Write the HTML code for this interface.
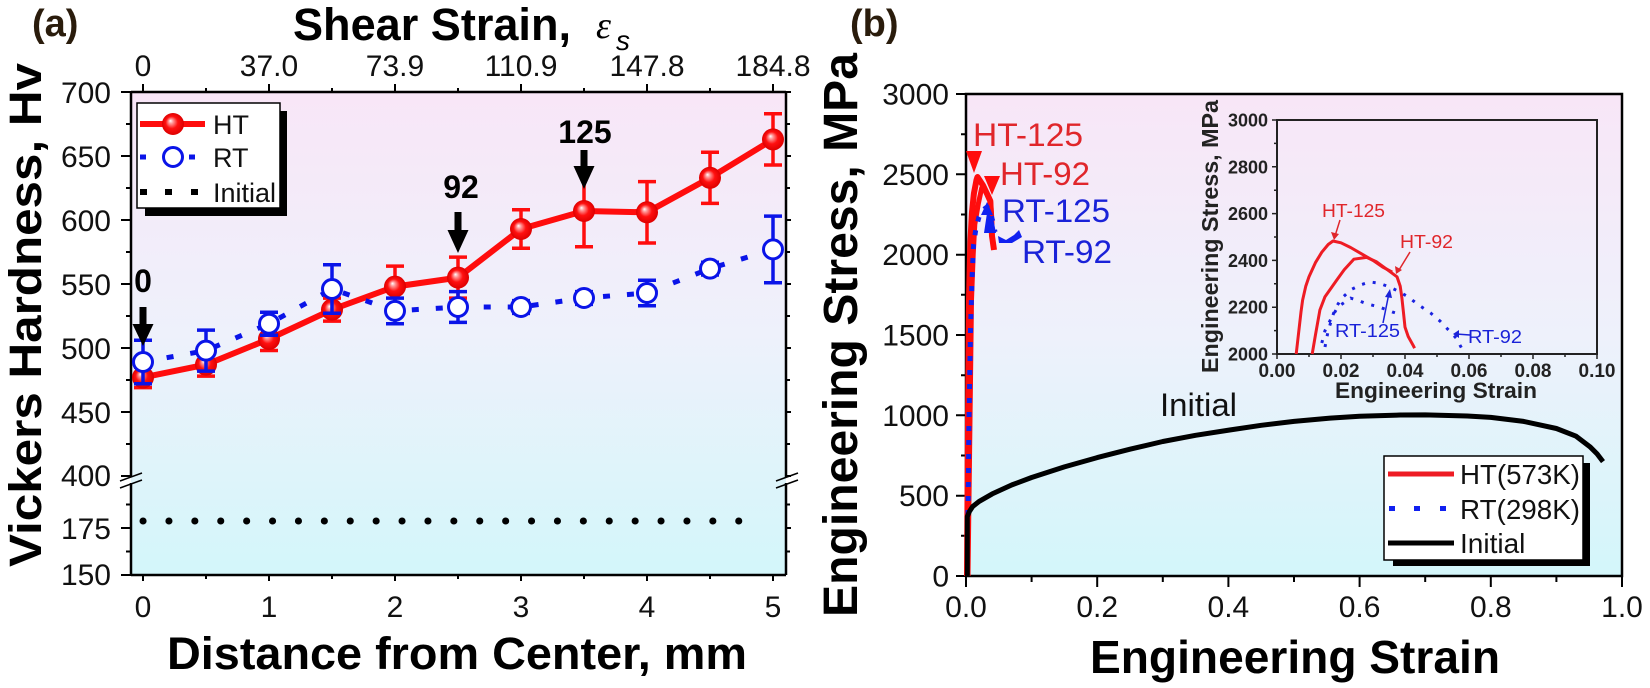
<!DOCTYPE html>
<html><head><meta charset="utf-8"><style>html,body{margin:0;padding:0;background:#fff}svg{display:block}</style></head><body>
<svg width="1650" height="688" viewBox="0 0 1650 688" xmlns="http://www.w3.org/2000/svg" font-family="'Liberation Sans', Arial, sans-serif">
<defs>
<linearGradient id="bg" x1="0" y1="0" x2="0" y2="1">
<stop offset="0" stop-color="#f8e6f7"/>
<stop offset="0.5" stop-color="#eef1fb"/>
<stop offset="1" stop-color="#d3f6fa"/>
</linearGradient>
<radialGradient id="ball" cx="0.5" cy="0.5" r="0.5" fx="0.38" fy="0.35">
<stop offset="0" stop-color="#ffffff"/>
<stop offset="0.2" stop-color="#ff9a9a"/>
<stop offset="0.55" stop-color="#ff1010"/>
<stop offset="1" stop-color="#dd0000"/>
</radialGradient>
</defs>

<!-- ============ PANEL (a) ============ -->
<rect x="131" y="92" width="655" height="483" fill="url(#bg)"/>
<text x="32" y="36" font-size="38" font-weight="bold" fill="#2a1c0c">(a)</text>

<!-- top title -->
<text x="293" y="40" font-size="45" font-weight="bold" textLength="278" lengthAdjust="spacingAndGlyphs">Shear Strain,</text>
<text x="596" y="38" font-size="38" font-style="italic" font-family="'Liberation Serif', serif">ε</text>
<text x="616" y="50" font-size="28" font-style="italic">s</text>

<!-- axes box (a) -->
<g stroke="#000" stroke-width="2.5" fill="none">
<line x1="131" y1="92" x2="786" y2="92"/>
<line x1="131" y1="575" x2="786" y2="575"/>
<line x1="131" y1="92" x2="131" y2="477"/>
<line x1="131" y1="483" x2="131" y2="575"/>
<line x1="786" y1="92" x2="786" y2="477"/>
<line x1="786" y1="483" x2="786" y2="575"/>
</g>
<!-- break marks -->
<g stroke="#000" stroke-width="1.5">
<line x1="120" y1="481" x2="142" y2="473"/>
<line x1="120" y1="488" x2="142" y2="480"/>
<line x1="776" y1="481" x2="798" y2="473"/>
<line x1="776" y1="488" x2="798" y2="480"/>
</g>
<!-- ticks (a) -->
<path stroke="#000" stroke-width="2" fill="none" d="
M121,92H131 M121,156H131 M121,220H131 M121,284H131 M121,348H131 M121,412H131 M121,476H131 M121,528H131 M121,575H131
M126,124H131 M126,188H131 M126,252H131 M126,316H131 M126,380H131 M126,444H131 M126,504.5H131 M126,551.5H131
M786,92H791 M786,156H791 M786,220H791 M786,284H791 M786,348H791 M786,412H791 M786,476H791 M786,528H791
M786,124H790 M786,188H790 M786,252H790 M786,316H790 M786,380H790 M786,444H790 M786,504.5H790 M786,551.5H790
M143,575V581 M269,575V581 M395,575V581 M521,575V581 M647,575V581 M773,575V581
M206,575V579 M332,575V579 M458,575V579 M584,575V579 M710,575V579
M143,92V84 M269,92V84 M395,92V84 M521,92V84 M647,92V84 M773,92V84
M206,92V88 M332,92V88 M458,92V88 M584,92V88 M710,92V88"/>
<!-- tick labels (a) -->
<g font-size="30" text-anchor="end" fill="#111">
<text x="111" y="103">700</text>
<text x="111" y="167">650</text>
<text x="111" y="231">600</text>
<text x="111" y="295">550</text>
<text x="111" y="359">500</text>
<text x="111" y="423">450</text>
<text x="111" y="486">400</text>
<text x="111" y="539">175</text>
<text x="111" y="585">150</text>
</g>
<g font-size="30" text-anchor="middle" fill="#111">
<text x="143" y="617">0</text>
<text x="269" y="617">1</text>
<text x="395" y="617">2</text>
<text x="521" y="617">3</text>
<text x="647" y="617">4</text>
<text x="773" y="617">5</text>
<text x="143" y="76">0</text>
<text x="269" y="76">37.0</text>
<text x="395" y="76">73.9</text>
<text x="521" y="76">110.9</text>
<text x="647" y="76">147.8</text>
<text x="773" y="76">184.8</text>
</g>
<!-- axis titles (a) -->
<text x="167" y="669" font-size="45" font-weight="bold" textLength="580" lengthAdjust="spacingAndGlyphs">Distance from Center, mm</text>
<text transform="translate(41,567) rotate(-90)" font-size="45" font-weight="bold" textLength="504" lengthAdjust="spacingAndGlyphs">Vickers Hardness, Hv</text>

<!-- initial dotted line -->
<line x1="143" y1="521" x2="762.5" y2="521" stroke="#000" stroke-width="7" stroke-linecap="round" stroke-dasharray="0.1 25.8"/>

<!-- HT series -->
<polyline fill="none" stroke="#ff0d0d" stroke-width="6" points="143,377.4 206,364.6 269,339 332,309.6 395,286.6 458,277.6 521,229 584,211 647,212.3 710,177.8 773,139.4"/>
<path fill="none" stroke="#ff0d0d" stroke-width="3.5" d="
M143,367.2V387.6 M134,367.2H152 M134,387.6H152
M206,353.1V376.1 M197,353.1H215 M197,376.1H215
M269,327.5V350.5 M260,327.5H278 M260,350.5H278
M332,298.1V321.1 M323,298.1H341 M323,321.1H341
M395,266.1V307.1 M386,266.1H404 M386,307.1H404
M458,257.1V298.1 M449,257.1H467 M449,298.1H467
M521,209.8V248.2 M512,209.8H530 M512,248.2H530
M584,175.2V246.8 M575,246.8H593
M647,181.6V243 M638,181.6H656 M638,243H656
M710,152.2V203.4 M701,152.2H719 M701,203.4H719
M773,113.8V165 M764,113.8H782 M764,165H782"/>
<g fill="url(#ball)">
<circle cx="143" cy="377.4" r="11"/><circle cx="206" cy="364.6" r="11"/><circle cx="269" cy="339" r="11"/>
<circle cx="332" cy="309.6" r="11"/><circle cx="395" cy="286.6" r="11"/><circle cx="458" cy="277.6" r="11"/>
<circle cx="521" cy="229" r="11"/><circle cx="584" cy="211" r="11"/><circle cx="647" cy="212.3" r="11"/>
<circle cx="710" cy="177.8" r="11"/><circle cx="773" cy="139.4" r="11"/>
</g>

<!-- RT series -->
<polyline fill="none" stroke="#0a14e8" stroke-width="5" stroke-dasharray="7 17" points="143,362 206,350.6 269,323.7 332,289 395,310.9 458,307 521,307 584,298 647,293 710,268.6 773,249.4"/>
<path fill="none" stroke="#0a14e8" stroke-width="3.5" d="
M143,340.2V383.8 M134,340.2H152 M134,383.8H152
M206,330.1V371.1 M197,330.1H215 M197,371.1H215
M269,312.2V335.2 M260,312.2H278 M260,335.2H278
M332,264.7V313.3 M323,264.7H341 M323,313.3H341
M395,298.1V323.7 M386,298.1H404 M386,323.7H404
M458,291.6V322.4 M449,291.6H467 M449,322.4H467
M521,300.6V313.4 M512,300.6H530 M512,313.4H530
M584,291.6V304.4 M575,291.6H593 M575,304.4H593
M647,280.2V305.8 M638,280.2H656 M638,305.8H656
M710,262.2V275 M701,262.2H719 M701,275H719
M773,216.1V282.7 M764,216.1H782 M764,282.7H782"/>
<g fill="#fff" stroke="#0a14e8" stroke-width="3">
<circle cx="143" cy="362" r="9.5"/><circle cx="206" cy="350.6" r="9.5"/><circle cx="269" cy="323.7" r="9.5"/>
<circle cx="332" cy="289" r="9.5"/><circle cx="395" cy="310.9" r="9.5"/><circle cx="458" cy="307" r="9.5"/>
<circle cx="521" cy="307" r="9.5"/><circle cx="584" cy="298" r="9.5"/><circle cx="647" cy="293" r="9.5"/>
<circle cx="710" cy="268.6" r="9.5"/><circle cx="773" cy="249.4" r="9.5"/>
</g>

<!-- arrows & labels (a) -->
<g fill="#000">
<rect x="139.5" y="307" width="7" height="19"/><polygon points="132.5,324 153.5,324 143,346"/>
<rect x="454.5" y="212" width="7" height="20"/><polygon points="447.5,230 468.5,230 458,253"/>
<rect x="580.5" y="150" width="7" height="18"/><polygon points="573.5,166 594.5,166 584,189"/>
</g>
<g font-size="32" font-weight="bold" text-anchor="middle">
<text x="143" y="292">0</text>
<text x="461" y="198">92</text>
<text x="585" y="143">125</text>
</g>

<!-- legend (a) -->
<rect x="145" y="111" width="142" height="105" fill="#000"/>
<rect x="137" y="103" width="143" height="105" fill="#fff" stroke="#000" stroke-width="1.5"/>
<line x1="140" y1="124" x2="205" y2="124" stroke="#ff0d0d" stroke-width="6"/>
<circle cx="173" cy="124" r="11" fill="url(#ball)"/>
<line x1="140" y1="157" x2="146" y2="157" stroke="#0a14e8" stroke-width="5"/>
<line x1="189" y1="157" x2="195" y2="157" stroke="#0a14e8" stroke-width="5"/>
<circle cx="173" cy="157" r="9.5" fill="#fff" stroke="#0a14e8" stroke-width="3"/>
<g fill="#000"><rect x="140" y="189" width="7" height="6"/><rect x="165" y="189" width="7" height="6"/><rect x="191" y="189" width="7" height="6"/></g>
<g font-size="27" fill="#111">
<text x="213" y="134">HT</text>
<text x="213" y="167">RT</text>
<text x="213" y="202">Initial</text>
</g>

<!-- ============ PANEL (b) ============ -->
<rect x="966" y="94" width="656" height="482" fill="url(#bg)"/>
<text x="850" y="36" font-size="38" font-weight="bold" fill="#2a1c0c">(b)</text>
<rect x="966" y="94" width="656" height="482" fill="none" stroke="#000" stroke-width="2.5"/>
<path stroke="#000" stroke-width="2" fill="none" d="
M956,94H966 M956,174.3H966 M956,254.7H966 M956,335H966 M956,415.3H966 M956,495.7H966 M956,576H966
M961,134.2H966 M961,214.5H966 M961,294.8H966 M961,375.2H966 M961,455.5H966 M961,535.8H966
M966,577V587 M1097.2,577V587 M1228.4,577V587 M1359.6,577V587 M1490.8,577V587 M1622,577V587
M1031.6,577V582 M1162.8,577V582 M1294,577V582 M1425.2,577V582 M1556.4,577V582"/>
<g font-size="30" text-anchor="end" fill="#111">
<text x="949" y="104.5">3000</text>
<text x="949" y="184.8">2500</text>
<text x="949" y="265.2">2000</text>
<text x="949" y="345.5">1500</text>
<text x="949" y="425.8">1000</text>
<text x="949" y="506.2">500</text>
<text x="949" y="586.5">0</text>
</g>
<g font-size="30" text-anchor="middle" fill="#111">
<text x="966" y="617">0.0</text>
<text x="1097.2" y="617">0.2</text>
<text x="1228.4" y="617">0.4</text>
<text x="1359.6" y="617">0.6</text>
<text x="1490.8" y="617">0.8</text>
<text x="1622" y="617">1.0</text>
</g>
<text x="1090" y="673" font-size="46" font-weight="bold" textLength="410" lengthAdjust="spacingAndGlyphs">Engineering Strain</text>
<text transform="translate(857,617) rotate(-90)" font-size="48" font-weight="bold" textLength="564" lengthAdjust="spacingAndGlyphs">Engineering Stress, MPa</text>

<!-- main curves (b) -->
<polyline fill="none" stroke="#ff0d0d" stroke-width="6" stroke-linejoin="round" points="967,576 968,420 969,300 970,255 970.6,238.6 971.9,212.9 973.9,193.6 976.5,180 977.5,177 983,185.4 987.6,195 990.3,201 992,236 994,250"/>
<polyline fill="none" stroke="#ff0d0d" stroke-width="5" stroke-linejoin="round" points="968,576 970,420 971.5,300 973.2,254.7 974.8,224.5 978.3,203.9 981.7,188 984.4,188 988.3,197 990.6,201.6 991.6,215.6 992.2,236 993.9,248.6"/>
<polygon fill="#ff0d0d" points="966,151 982,151 974,173"/>
<polygon fill="#ff0d0d" points="984,176 1000,176 992,195"/>
<polyline fill="none" stroke="#1020f0" stroke-width="5" stroke-dasharray="5 9" points="968,515 969,420 970.5,330 972,280 973.5,245 976,228 979,217 983,210 987,207 990,212 993,222 995,232"/>
<polygon fill="#1020f0" points="981,215 993,215 987,202"/>
<polygon fill="#1020f0" points="984,233 996,233 993,218 987,213"/>
<polygon fill="#1020f0" points="998,236 1006,240 1014,235 1019,230 1022,237 1012,243 999,243"/>
<polyline fill="none" stroke="#000" stroke-width="5" stroke-linejoin="round" points="967.3,576 967.3,516.6 969.3,511.7 972.6,506.6 979.1,501.4 992.2,493.9 1011.9,484.9 1031.6,477.5 1064.4,466.9 1097.2,457.6 1130,449.2 1162.8,441.5 1195.6,435.3 1229.7,430 1261.2,425.3 1294,421.4 1330.1,418.1 1359.6,416.3 1400.3,415 1425.2,414.9 1467.2,416 1490.8,417.4 1523.6,421.4 1556.4,428.5 1576.1,436.2 1589.9,446.7 1597.1,453.9 1603,461.6"/>
<g font-size="32">
<text x="973" y="146" fill="#e0262b" textLength="110" lengthAdjust="spacingAndGlyphs">HT-125</text>
<text x="1000" y="185" fill="#e0262b" textLength="90" lengthAdjust="spacingAndGlyphs">HT-92</text>
<text x="1002" y="222" fill="#1a22d8" textLength="108" lengthAdjust="spacingAndGlyphs">RT-125</text>
<text x="1022" y="263" fill="#1a22d8" textLength="90" lengthAdjust="spacingAndGlyphs">RT-92</text>
<text x="1160" y="416" fill="#111" textLength="77" lengthAdjust="spacingAndGlyphs">Initial</text>
</g>

<!-- inset -->
<rect x="1277" y="120" width="320" height="234" fill="none" stroke="#222" stroke-width="2"/>
<path stroke="#222" stroke-width="1.5" fill="none" d="
M1272,120H1277 M1272,166.8H1277 M1272,213.6H1277 M1272,260.4H1277 M1272,307.2H1277 M1272,354H1277
M1274,143.4H1277 M1274,190.2H1277 M1274,237H1277 M1274,283.8H1277 M1274,330.6H1277
M1277,354V359 M1341,354V359 M1405,354V359 M1469,354V359 M1533,354V359 M1597,354V359
M1309,354V357 M1373,354V357 M1437,354V357 M1501,354V357 M1565,354V357"/>
<g font-size="18" font-weight="bold" text-anchor="end" fill="#222">
<text x="1268" y="126.5">3000</text>
<text x="1268" y="173.3">2800</text>
<text x="1268" y="220.1">2600</text>
<text x="1268" y="266.9">2400</text>
<text x="1268" y="313.7">2200</text>
<text x="1268" y="360.5">2000</text>
</g>
<g font-size="19" font-weight="bold" text-anchor="middle" fill="#222">
<text x="1277" y="377">0.00</text>
<text x="1341" y="377">0.02</text>
<text x="1405" y="377">0.04</text>
<text x="1469" y="377">0.06</text>
<text x="1533" y="377">0.08</text>
<text x="1597" y="377">0.10</text>
</g>
<text x="1335" y="398" font-size="22" font-weight="bold" fill="#222" textLength="202" lengthAdjust="spacingAndGlyphs">Engineering Strain</text>
<text transform="translate(1218,373) rotate(-90)" font-size="23" font-weight="bold" fill="#222" textLength="273" lengthAdjust="spacingAndGlyphs">Engineering Stress, MPa</text>

<polyline fill="none" stroke="#ee1c24" stroke-width="3" stroke-linejoin="round" points="1296.2,354 1297.8,340 1299.4,325.9 1301,311.9 1302.6,300.2 1305.8,286.1 1309,276.8 1315.4,262.7 1321.8,252.2 1328.2,244.5 1333,241 1341,242.8 1350.6,247.5 1360.2,253.1 1373,260.4 1382.6,267 1392.2,272.1"/>
<polyline fill="none" stroke="#ee1c24" stroke-width="3" stroke-linejoin="round" points="1312.2,354 1315.4,335.3 1319.9,310 1325,296.7 1336.8,280 1344.2,269.8 1353.8,259.2 1366.6,257.4 1376.2,261.6 1385.8,268.6 1397,276.8 1400.2,286.1 1401.8,297.1 1403.4,311.9 1405,327.1 1408.2,336.5 1413,345.1 1414.6,348.2"/>
<polyline fill="none" stroke="#1a22e0" stroke-width="3" stroke-dasharray="3 8" points="1321.8,343 1325,330.6 1331.4,318 1337.8,307 1350.6,298.1 1357,300 1366.6,303.7 1379.4,307 1392.2,311.9 1401.8,314.9"/>
<polyline fill="none" stroke="#1a22e0" stroke-width="3" stroke-dasharray="3 8" points="1325,347 1328.2,330.6 1334.6,310 1341,299 1350.6,289.9 1360.2,285 1369.8,281.9 1379.4,283.3 1389,286.8 1398.6,291.3 1408.2,296.9 1417.8,304.4 1430.6,313 1440.2,321.2 1446.6,328 1456.2,338.1 1462.6,350"/>
<!-- inset arrows -->
<g stroke-width="1.5" fill="none">
<line x1="1340" y1="220" x2="1335" y2="236" stroke="#e0262b"/>
<line x1="1410" y1="252" x2="1399" y2="270" stroke="#e0262b"/>
<line x1="1383" y1="323" x2="1389" y2="293" stroke="#1a22d8"/>
<line x1="1470" y1="335" x2="1456" y2="334" stroke="#1a22d8"/>
</g>
<polygon fill="#e0262b" points="1331,232 1339,234 1334,240"/>
<polygon fill="#e0262b" points="1395,266 1402,270 1396,274"/>
<polygon fill="#1a22d8" points="1385,297 1392,298 1390,289"/>
<polygon fill="#1a22d8" points="1459,330 1459,338 1453,334"/>
<g font-size="18">
<text x="1322" y="217" fill="#e0262b" textLength="63" lengthAdjust="spacingAndGlyphs">HT-125</text>
<text x="1400" y="248" fill="#e0262b" textLength="53" lengthAdjust="spacingAndGlyphs">HT-92</text>
<text x="1335" y="337" fill="#1a22d8" textLength="65" lengthAdjust="spacingAndGlyphs">RT-125</text>
<text x="1468" y="343" fill="#1a22d8" textLength="54" lengthAdjust="spacingAndGlyphs">RT-92</text>
</g>

<!-- legend (b) -->
<rect x="1393" y="463" width="197" height="103" fill="#000"/>
<rect x="1384" y="456" width="199" height="104" fill="#fff" stroke="#000" stroke-width="1.5"/>
<line x1="1388" y1="474" x2="1454" y2="474" stroke="#ee1c24" stroke-width="5"/>
<g fill="#1020f0"><rect x="1389" y="506" width="6" height="5"/><rect x="1414" y="506" width="6" height="5"/><rect x="1440" y="506" width="6" height="5"/></g>
<line x1="1388" y1="543" x2="1454" y2="543" stroke="#000" stroke-width="5"/>
<g font-size="28" fill="#111">
<text x="1460" y="484" textLength="120" lengthAdjust="spacingAndGlyphs">HT(573K)</text>
<text x="1460" y="519" textLength="120" lengthAdjust="spacingAndGlyphs">RT(298K)</text>
<text x="1460" y="553">Initial</text>
</g>
</svg>
</body></html>
